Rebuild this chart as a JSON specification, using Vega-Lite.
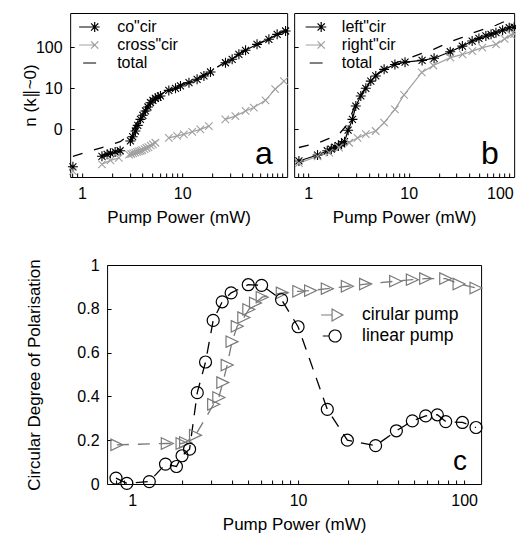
{
  "$schema": "https://vega.github.io/schema/vega-lite/v6.json",
  "padding": {"left": 20, "top": 12, "right": 0, "bottom": 0},
  "spacing": 30,
  "center": true,
  "resolve": {"scale": {"color": "independent"}, "legend": {"color": "independent"}},
  "datasets": {
    "a": [
      {"s": "co\"cir", "g": 1, "p": 0.81, "n": 0.122},
      {"s": "co\"cir", "g": 2, "p": 1.58, "n": 0.22},
      {"s": "co\"cir", "g": 2, "p": 1.78, "n": 0.245},
      {"s": "co\"cir", "g": 2, "p": 1.92, "n": 0.26},
      {"s": "co\"cir", "g": 2, "p": 2.14, "n": 0.28},
      {"s": "co\"cir", "g": 2, "p": 2.4, "n": 0.30},
      {"s": "co\"cir", "g": 3, "p": 3.04, "n": 0.52},
      {"s": "co\"cir", "g": 3, "p": 3.2, "n": 0.66},
      {"s": "co\"cir", "g": 3, "p": 3.41, "n": 0.91},
      {"s": "co\"cir", "g": 3, "p": 3.6, "n": 1.25},
      {"s": "co\"cir", "g": 3, "p": 3.83, "n": 1.75},
      {"s": "co\"cir", "g": 3, "p": 4.05, "n": 2.2},
      {"s": "co\"cir", "g": 3, "p": 4.3, "n": 2.8},
      {"s": "co\"cir", "g": 3, "p": 4.55, "n": 3.5},
      {"s": "co\"cir", "g": 3, "p": 4.82, "n": 4.46},
      {"s": "co\"cir", "g": 3, "p": 5.1, "n": 5.1},
      {"s": "co\"cir", "g": 3, "p": 5.4, "n": 5.7},
      {"s": "co\"cir", "g": 3, "p": 5.75, "n": 6.1},
      {"s": "co\"cir", "g": 3, "p": 6.07, "n": 6.5},
      {"s": "co\"cir", "g": 4, "p": 7.36, "n": 8.9},
      {"s": "co\"cir", "g": 4, "p": 8.58, "n": 10},
      {"s": "co\"cir", "g": 4, "p": 9.62, "n": 11.4},
      {"s": "co\"cir", "g": 4, "p": 11.7, "n": 13.7},
      {"s": "co\"cir", "g": 4, "p": 14.1, "n": 16.6},
      {"s": "co\"cir", "g": 4, "p": 16.5, "n": 20},
      {"s": "co\"cir", "g": 4, "p": 19.2, "n": 25},
      {"s": "co\"cir", "g": 5, "p": 27.1, "n": 42},
      {"s": "co\"cir", "g": 5, "p": 31.6, "n": 51},
      {"s": "co\"cir", "g": 5, "p": 36.9, "n": 67.5},
      {"s": "co\"cir", "g": 5, "p": 43, "n": 84.5},
      {"s": "co\"cir", "g": 5, "p": 56, "n": 118},
      {"s": "co\"cir", "g": 5, "p": 73.6, "n": 157},
      {"s": "co\"cir", "g": 5, "p": 89, "n": 207},
      {"s": "co\"cir", "g": 5, "p": 108, "n": 250},
      {"s": "cross\"cir", "g": 1, "p": 0.81, "n": 0.096},
      {"s": "cross\"cir", "g": 2, "p": 1.58, "n": 0.14},
      {"s": "cross\"cir", "g": 2, "p": 1.92, "n": 0.175},
      {"s": "cross\"cir", "g": 2, "p": 2.33, "n": 0.2},
      {"s": "cross\"cir", "g": 3, "p": 2.95, "n": 0.24},
      {"s": "cross\"cir", "g": 3, "p": 3.1, "n": 0.25},
      {"s": "cross\"cir", "g": 3, "p": 3.25, "n": 0.26},
      {"s": "cross\"cir", "g": 3, "p": 3.4, "n": 0.27},
      {"s": "cross\"cir", "g": 3, "p": 3.55, "n": 0.28},
      {"s": "cross\"cir", "g": 3, "p": 3.7, "n": 0.29},
      {"s": "cross\"cir", "g": 3, "p": 3.85, "n": 0.30},
      {"s": "cross\"cir", "g": 3, "p": 4.0, "n": 0.31},
      {"s": "cross\"cir", "g": 3, "p": 4.2, "n": 0.33},
      {"s": "cross\"cir", "g": 3, "p": 4.4, "n": 0.35},
      {"s": "cross\"cir", "g": 3, "p": 4.6, "n": 0.37},
      {"s": "cross\"cir", "g": 3, "p": 4.85, "n": 0.40},
      {"s": "cross\"cir", "g": 3, "p": 5.1, "n": 0.43},
      {"s": "cross\"cir", "g": 3, "p": 5.4, "n": 0.47},
      {"s": "cross\"cir", "g": 4, "p": 7.36, "n": 0.62},
      {"s": "cross\"cir", "g": 4, "p": 8.9, "n": 0.69},
      {"s": "cross\"cir", "g": 4, "p": 10.4, "n": 0.755},
      {"s": "cross\"cir", "g": 4, "p": 12.6, "n": 0.87},
      {"s": "cross\"cir", "g": 4, "p": 15.2, "n": 1.0},
      {"s": "cross\"cir", "g": 4, "p": 18.5, "n": 1.2},
      {"s": "cross\"cir", "g": 5, "p": 27, "n": 1.75},
      {"s": "cross\"cir", "g": 5, "p": 34, "n": 2.1},
      {"s": "cross\"cir", "g": 5, "p": 43, "n": 2.8},
      {"s": "cross\"cir", "g": 5, "p": 52, "n": 3.4},
      {"s": "cross\"cir", "g": 5, "p": 68, "n": 5.1},
      {"s": "cross\"cir", "g": 5, "p": 85, "n": 9.5},
      {"s": "cross\"cir", "g": 5, "p": 104, "n": 15},
      {"s": "total", "g": 0, "p": 0.81, "n": 0.22},
      {"s": "total", "g": 0, "p": 1.58, "n": 0.36},
      {"s": "total", "g": 0, "p": 2.4, "n": 0.5},
      {"s": "total", "g": 0, "p": 3.04, "n": 0.76},
      {"s": "total", "g": 0, "p": 3.83, "n": 2.05},
      {"s": "total", "g": 0, "p": 4.82, "n": 4.85},
      {"s": "total", "g": 0, "p": 6.07, "n": 7.0},
      {"s": "total", "g": 0, "p": 7.36, "n": 9.5},
      {"s": "total", "g": 0, "p": 9.62, "n": 12.2},
      {"s": "total", "g": 0, "p": 14.1, "n": 17.6},
      {"s": "total", "g": 0, "p": 19.2, "n": 26.2},
      {"s": "total", "g": 0, "p": 27.1, "n": 43.8},
      {"s": "total", "g": 0, "p": 43, "n": 87.3},
      {"s": "total", "g": 0, "p": 73.6, "n": 162},
      {"s": "total", "g": 0, "p": 108, "n": 265}
    ],
    "b": [
      {"s": "left\"cir", "p": 0.81, "n": 0.169},
      {"s": "left\"cir", "p": 1.24, "n": 0.236},
      {"s": "left\"cir", "p": 1.55, "n": 0.30},
      {"s": "left\"cir", "p": 1.7, "n": 0.33},
      {"s": "left\"cir", "p": 1.85, "n": 0.37},
      {"s": "left\"cir", "p": 2.0, "n": 0.40},
      {"s": "left\"cir", "p": 2.15, "n": 0.44},
      {"s": "left\"cir", "p": 2.3, "n": 0.50},
      {"s": "left\"cir", "p": 2.5, "n": 0.95},
      {"s": "left\"cir", "p": 2.76, "n": 1.75},
      {"s": "left\"cir", "p": 2.98, "n": 3.7},
      {"s": "left\"cir", "p": 3.34, "n": 6.5},
      {"s": "left\"cir", "p": 3.75, "n": 10},
      {"s": "left\"cir", "p": 4.2, "n": 15},
      {"s": "left\"cir", "p": 4.71, "n": 20},
      {"s": "left\"cir", "p": 5.7, "n": 29},
      {"s": "left\"cir", "p": 7.3, "n": 38},
      {"s": "left\"cir", "p": 9.2, "n": 43.5},
      {"s": "left\"cir", "p": 13.6, "n": 48},
      {"s": "left\"cir", "p": 17.9, "n": 54},
      {"s": "left\"cir", "p": 25.9, "n": 78},
      {"s": "left\"cir", "p": 34.2, "n": 107},
      {"s": "left\"cir", "p": 42.8, "n": 142},
      {"s": "left\"cir", "p": 50, "n": 165},
      {"s": "left\"cir", "p": 58.6, "n": 189},
      {"s": "left\"cir", "p": 66, "n": 208},
      {"s": "left\"cir", "p": 73.8, "n": 227},
      {"s": "left\"cir", "p": 86, "n": 262},
      {"s": "left\"cir", "p": 100, "n": 300},
      {"s": "left\"cir", "p": 112, "n": 310},
      {"s": "right\"cir", "p": 0.81, "n": 0.15},
      {"s": "right\"cir", "p": 1.24, "n": 0.22},
      {"s": "right\"cir", "p": 1.62, "n": 0.27},
      {"s": "right\"cir", "p": 2.03, "n": 0.36},
      {"s": "right\"cir", "p": 2.56, "n": 0.47},
      {"s": "right\"cir", "p": 3.1, "n": 0.62},
      {"s": "right\"cir", "p": 3.75, "n": 0.76},
      {"s": "right\"cir", "p": 4.7, "n": 0.91},
      {"s": "right\"cir", "p": 5.7, "n": 1.45},
      {"s": "right\"cir", "p": 7.3, "n": 3.07},
      {"s": "right\"cir", "p": 9.0, "n": 6.9},
      {"s": "right\"cir", "p": 13.5, "n": 24.5},
      {"s": "right\"cir", "p": 17.6, "n": 36},
      {"s": "right\"cir", "p": 26, "n": 56},
      {"s": "right\"cir", "p": 34.4, "n": 67},
      {"s": "right\"cir", "p": 43, "n": 81},
      {"s": "right\"cir", "p": 54, "n": 98},
      {"s": "right\"cir", "p": 74, "n": 118},
      {"s": "right\"cir", "p": 90, "n": 160},
      {"s": "right\"cir", "p": 104, "n": 200},
      {"s": "right\"cir", "p": 112, "n": 210},
      {"s": "total", "p": 0.81, "n": 0.36},
      {"s": "total", "p": 1.24, "n": 0.46},
      {"s": "total", "p": 1.62, "n": 0.6},
      {"s": "total", "p": 2.03, "n": 0.76},
      {"s": "total", "p": 2.5, "n": 1.4},
      {"s": "total", "p": 2.98, "n": 4.3},
      {"s": "total", "p": 3.75, "n": 10.8},
      {"s": "total", "p": 4.71, "n": 21},
      {"s": "total", "p": 5.7, "n": 30.5},
      {"s": "total", "p": 7.3, "n": 41},
      {"s": "total", "p": 9.2, "n": 50},
      {"s": "total", "p": 13.6, "n": 72},
      {"s": "total", "p": 17.9, "n": 90},
      {"s": "total", "p": 25.9, "n": 137},
      {"s": "total", "p": 34.2, "n": 175},
      {"s": "total", "p": 42.8, "n": 223},
      {"s": "total", "p": 58.6, "n": 287},
      {"s": "total", "p": 73.8, "n": 345},
      {"s": "total", "p": 100, "n": 480},
      {"s": "total", "p": 112, "n": 520}
    ],
    "c": [
      {"s": "cirular pump", "p": 0.81, "v": 0.179},
      {"s": "cirular pump", "p": 1.63, "v": 0.185},
      {"s": "cirular pump", "p": 2.0, "v": 0.185},
      {"s": "cirular pump", "p": 2.1, "v": 0.19},
      {"s": "cirular pump", "p": 2.41, "v": 0.223},
      {"s": "cirular pump", "p": 3.1, "v": 0.364},
      {"s": "cirular pump", "p": 3.33, "v": 0.395},
      {"s": "cirular pump", "p": 3.52, "v": 0.463},
      {"s": "cirular pump", "p": 3.74, "v": 0.543},
      {"s": "cirular pump", "p": 4.0, "v": 0.65},
      {"s": "cirular pump", "p": 4.3, "v": 0.72},
      {"s": "cirular pump", "p": 4.71, "v": 0.76},
      {"s": "cirular pump", "p": 5.05, "v": 0.797},
      {"s": "cirular pump", "p": 5.54, "v": 0.827},
      {"s": "cirular pump", "p": 6.08, "v": 0.853},
      {"s": "cirular pump", "p": 8.03, "v": 0.873},
      {"s": "cirular pump", "p": 10.1, "v": 0.88},
      {"s": "cirular pump", "p": 11.9, "v": 0.883},
      {"s": "cirular pump", "p": 15, "v": 0.892},
      {"s": "cirular pump", "p": 19.8, "v": 0.903},
      {"s": "cirular pump", "p": 25.5, "v": 0.913},
      {"s": "cirular pump", "p": 38.7, "v": 0.926},
      {"s": "cirular pump", "p": 48.8, "v": 0.933},
      {"s": "cirular pump", "p": 58.7, "v": 0.938},
      {"s": "cirular pump", "p": 77.5, "v": 0.938},
      {"s": "cirular pump", "p": 93.3, "v": 0.913},
      {"s": "cirular pump", "p": 118, "v": 0.895},
      {"s": "linear pump", "p": 0.8, "v": 0.027},
      {"s": "linear pump", "p": 0.93, "v": 0.003},
      {"s": "linear pump", "p": 1.27, "v": 0.011},
      {"s": "linear pump", "p": 1.59, "v": 0.091},
      {"s": "linear pump", "p": 1.85, "v": 0.08},
      {"s": "linear pump", "p": 2.0, "v": 0.129},
      {"s": "linear pump", "p": 2.22, "v": 0.159},
      {"s": "linear pump", "p": 2.47, "v": 0.417},
      {"s": "linear pump", "p": 2.77, "v": 0.557},
      {"s": "linear pump", "p": 3.08, "v": 0.747},
      {"s": "linear pump", "p": 3.49, "v": 0.832},
      {"s": "linear pump", "p": 3.95, "v": 0.873},
      {"s": "linear pump", "p": 5.01, "v": 0.91},
      {"s": "linear pump", "p": 6.03, "v": 0.907},
      {"s": "linear pump", "p": 7.95, "v": 0.842},
      {"s": "linear pump", "p": 10.0, "v": 0.718},
      {"s": "linear pump", "p": 15, "v": 0.341},
      {"s": "linear pump", "p": 19.8, "v": 0.2},
      {"s": "linear pump", "p": 29.3, "v": 0.175},
      {"s": "linear pump", "p": 39.1, "v": 0.243},
      {"s": "linear pump", "p": 48.8, "v": 0.288},
      {"s": "linear pump", "p": 58.7, "v": 0.311},
      {"s": "linear pump", "p": 69, "v": 0.316},
      {"s": "linear pump", "p": 77.5, "v": 0.285},
      {"s": "linear pump", "p": 97.7, "v": 0.281},
      {"s": "linear pump", "p": 118, "v": 0.258}
    ],
    "lab": [
      {"panel": "a", "p": 65.6, "n": 0.143, "t": "a"},
      {"panel": "b", "p": 64.3, "n": 0.143, "t": "b"},
      {"panel": "c", "p": 94.6, "v": 0.064, "t": "c"}
    ]
  },
  "vconcat": [
    {
      "spacing": -4,
      "resolve": {"scale": {"color": "independent"}, "legend": {"color": "independent"}},
      "hconcat": [
        {
          "width": 217,
          "height": 164,
          "data": {"name": "a"},
          "encoding": {
            "x": {"field": "p", "type": "quantitative",
              "scale": {"type": "log", "domain": [0.76, 112], "nice": false},
              "axis": {"title": "Pump Power (mW)", "values": [0.8, 0.9, 1, 2, 3, 4, 5, 6, 7, 8, 9, 10, 20, 30, 40, 50, 60, 70, 80, 90, 100],
                "labelExpr": "datum.value == 1 || datum.value == 10 ? datum.value + '' : ''"}},
            "y": {"field": "n", "type": "quantitative",
              "scale": {"type": "log", "domain": [0.0687, 687], "nice": false},
              "axis": {"title": "n (k∥~0)", "values": [1, 10, 100], "labelExpr": "datum.value == 1 ? '0' : datum.value + ''", "titlePadding": -4}},
            "color": {"field": "s", "type": "nominal",
              "scale": {"domain": ["co\"cir", "cross\"cir", "total"], "range": ["black", "#a0a0a0", "black"]},
              "legend": {"title": null, "orient": "none", "legendX": 9.5, "legendY": 4, "symbolSize": 324, "labelOffset": 17.5, "labelFontSize": 16,
                "encode": {"symbols": {"update": {
                  "shape": {"signal": "datum.value == 'total' ? 'M-0.72,0L0.72,0' : datum.value == 'co\"cir' ? 'M-1.17,0L0.56,0M0,0L1.12,0M0.56,-0.56L0.56,0.56M0.16,-0.4L0.96,0.4M0.16,0.4L0.96,-0.4' : 'M-1.17,0L0.56,0M0.16,-0.4L0.96,0.4M0.16,0.4L0.96,-0.4'"},
                  "size": {"value": 324}, "strokeWidth": {"value": 1.2}, "strokeDash": {"value": [1, 0]}, "fill": {"value": "transparent"}}}}}}
          },
          "layer": [
            {"transform": [{"filter": "datum.s != 'total'"}], "mark": {"type": "line", "strokeWidth": 1.2}, "encoding": {"detail": {"field": "g"}}},
            {"transform": [{"filter": "datum.s == 'total'"}], "mark": {"type": "line", "strokeWidth": 1.3, "strokeDash": [10, 12]}},
            {"transform": [{"filter": "datum.s == 'co\"cir'"}], "mark": {"type": "point", "filled": false, "size": 100, "strokeWidth": 1.1, "opacity": 1,
              "shape": "M-1,0L1,0M0,-1L0,1M-0.7,-0.7L0.7,0.7M-0.7,0.7L0.7,-0.7"}},
            {"transform": [{"filter": "datum.s == 'cross\"cir'"}], "mark": {"type": "point", "filled": false, "size": 100, "strokeWidth": 1.1, "opacity": 1,
              "shape": "M-0.75,-0.75L0.75,0.75M-0.75,0.75L0.75,-0.75"}},
            {"data": {"name": "lab"}, "transform": [{"filter": "datum.panel == 'a'"}],
              "mark": {"type": "text", "fontSize": 32, "align": "center", "baseline": "alphabetic"},
              "encoding": {"text": {"field": "t"}, "color": {"value": "black"}}}
          ]
        },
        {
          "width": 220,
          "height": 164,
          "data": {"name": "b"},
          "encoding": {
            "x": {"field": "p", "type": "quantitative",
              "scale": {"type": "log", "domain": [0.726, 112], "nice": false},
              "axis": {"title": "Pump Power (mW)", "values": [0.8, 0.9, 1, 2, 3, 4, 5, 6, 7, 8, 9, 10, 20, 30, 40, 50, 60, 70, 80, 90, 100],
                "labelExpr": "datum.value == 1 || datum.value == 10 || datum.value == 100 ? datum.value + '' : ''",
                "labelFlush": 10, "labelFlushOffset": 4}},
            "y": {"field": "n", "type": "quantitative",
              "scale": {"type": "log", "domain": [0.0687, 687], "nice": false},
              "axis": {"title": null, "values": [1, 10, 100], "labels": false}},
            "color": {"field": "s", "type": "nominal",
              "scale": {"domain": ["left\"cir", "right\"cir", "total"], "range": ["black", "#a0a0a0", "black"]},
              "legend": {"title": null, "orient": "none", "legendX": 12, "legendY": 4, "symbolSize": 324, "labelOffset": 15.7, "labelFontSize": 16,
                "encode": {"symbols": {"update": {
                  "shape": {"signal": "datum.value == 'total' ? 'M-0.72,0L0.72,0' : datum.value == 'left\"cir' ? 'M-1.17,0L0.56,0M0,0L1.12,0M0.56,-0.56L0.56,0.56M0.16,-0.4L0.96,0.4M0.16,0.4L0.96,-0.4' : 'M-1.17,0L0.56,0M0.16,-0.4L0.96,0.4M0.16,0.4L0.96,-0.4'"},
                  "size": {"value": 324}, "strokeWidth": {"value": 1.2}, "strokeDash": {"value": [1, 0]}, "fill": {"value": "transparent"}}}}}}
          },
          "layer": [
            {"transform": [{"filter": "datum.s != 'total'"}], "mark": {"type": "line", "strokeWidth": 1.2}},
            {"transform": [{"filter": "datum.s == 'total'"}], "mark": {"type": "line", "strokeWidth": 1.3, "strokeDash": [10, 12]}},
            {"transform": [{"filter": "datum.s == 'left\"cir'"}], "mark": {"type": "point", "filled": false, "size": 100, "strokeWidth": 1.1, "opacity": 1,
              "shape": "M-1,0L1,0M0,-1L0,1M-0.7,-0.7L0.7,0.7M-0.7,0.7L0.7,-0.7"}},
            {"transform": [{"filter": "datum.s == 'right\"cir'"}], "mark": {"type": "point", "filled": false, "size": 100, "strokeWidth": 1.1, "opacity": 1,
              "shape": "M-0.75,-0.75L0.75,0.75M-0.75,0.75L0.75,-0.75"}},
            {"data": {"name": "lab"}, "transform": [{"filter": "datum.panel == 'b'"}],
              "mark": {"type": "text", "fontSize": 32, "align": "center", "baseline": "alphabetic"},
              "encoding": {"text": {"field": "t"}, "color": {"value": "black"}}}
          ]
        }
      ]
    },
    {
      "width": 374,
      "height": 219,
      "data": {"name": "c"},
      "encoding": {
        "x": {"field": "p", "type": "quantitative",
          "scale": {"type": "log", "domain": [0.707, 126.6], "nice": false},
          "axis": {"title": "Pump Power (mW)", "values": [0.8, 0.9, 1, 2, 3, 4, 5, 6, 7, 8, 9, 10, 20, 30, 40, 50, 60, 70, 80, 90, 100],
            "labelExpr": "datum.value == 1 || datum.value == 10 || datum.value == 100 ? datum.value + '' : ''"}},
        "y": {"field": "v", "type": "quantitative",
          "scale": {"domain": [0, 1], "nice": false},
          "axis": {"title": "Circular Degree of Polarisation", "values": [0, 0.2, 0.4, 0.6, 0.8, 1], "labelExpr": "datum.value + ''", "titlePadding": 33}},
        "color": {"field": "s", "type": "nominal",
          "scale": {"domain": ["cirular pump", "linear pump"], "range": ["#7a7a7a", "black"]},
          "legend": {"title": null, "orient": "none", "legendX": 214, "legendY": 39, "symbolSize": 400, "labelOffset": 19, "labelFontSize": 17.5, "rowPadding": 1,
            "encode": {"symbols": {"update": {
              "shape": {"signal": "datum.value == 'cirular pump' ? 'M-1.1,0L0,0M0,-0.6L1.07,0L0,0.6Z' : 'M-0.93,0L-0.3,0M-0.3,0A0.6,0.6 0 1,1 0.9,0A0.6,0.6 0 1,1 -0.3,0Z'"},
              "size": {"value": 400}, "strokeWidth": {"value": 1.2}, "strokeDash": {"value": [1, 0]}, "fill": {"value": "transparent"}}}}}}
      },
      "layer": [
        {"mark": {"type": "line", "strokeWidth": 1.3, "strokeDash": [12, 9]}},
        {"transform": [{"filter": "datum.s == 'cirular pump'"}], "mark": {"type": "point", "filled": false, "size": 144, "strokeWidth": 1.2, "opacity": 1,
          "shape": "M-1,-0.95L1,0L-1,0.95Z"}},
        {"transform": [{"filter": "datum.s == 'linear pump'"}], "mark": {"type": "point", "filled": false, "size": 144, "strokeWidth": 1.2, "opacity": 1,
          "shape": "circle"}},
        {"data": {"name": "lab"}, "transform": [{"filter": "datum.panel == 'c'"}],
          "mark": {"type": "text", "fontSize": 28, "align": "center", "baseline": "alphabetic"},
          "encoding": {"text": {"field": "t"}, "color": {"value": "black"}}}
      ]
    }
  ],
  "config": {
    "font": "Liberation Sans",
    "view": {"stroke": "black", "strokeWidth": 1},
    "axis": {"domain": false, "grid": false, "ticks": true, "tickSize": -4, "tickColor": "black", "labelColor": "black", "titleColor": "black",
      "labelFontSize": 16, "titleFontSize": 17, "titleFontWeight": "normal", "labelPadding": 12, "titlePadding": 8, "labelOverlap": false, "labelFlush": false,
      "labelFont": "Liberation Sans", "titleFont": "Liberation Sans"},
    "legend": {"labelColor": "black", "padding": 0, "rowPadding": 0, "labelFont": "Liberation Sans"},
    "text": {"font": "Liberation Sans"}
  }
}
